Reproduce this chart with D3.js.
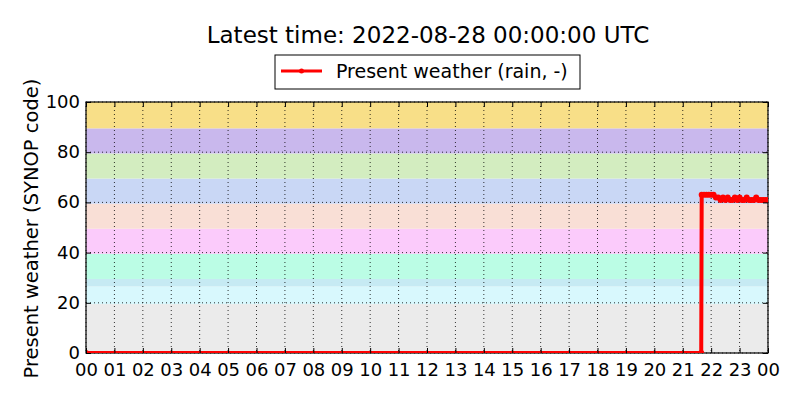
<!DOCTYPE html>
<html>
<head>
<meta charset="utf-8">
<script src="https://cdn.jsdelivr.net/npm/d3@7"></script>
<style>
  body { margin: 0; background: #fff; }
  svg { font-family: "DejaVu Sans", sans-serif; }
</style>
</head>
<body>
<svg width="800" height="400"></svg>
<script>
// weather code bands (SYNOP groups)
const BAND_EDGES = [0, 19.5, 26.5, 29.5, 39.5, 49.5, 59.5, 69.5, 79.5, 89.5, 100];
const BAND_COLORS = ['#ebebeb', '#d8f8fd', '#c6eaf3', '#bbfde5', '#fbcbfb',
                     '#f9dfd6', '#c9d7f5', '#d3edc0', '#c9b8ed', '#f8df88'];

// observation times (UTC, 2022-08-27) and present weather code
const TIMES = ['00:00', '21:39', '21:40', '21:45', '21:50', '21:55', '22:00', '22:05',
               '22:10', '22:15', '22:20', '22:25', '22:30', '22:35', '22:40', '22:45',
               '22:50', '22:55', '23:00', '23:05', '23:10', '23:15', '23:20', '23:25',
               '23:30', '23:35', '23:40', '23:45', '23:50', '23:55', '24:00'];
const VALUES = [0, 0, 63, 63, 63, 63, 63, 63,
                62, 62, 61, 62, 61, 62, 61, 61,
                62, 61, 62, 61, 61, 62, 61, 61,
                61, 62, 61, 61, 61, 61, 61];

const Y_TICKS = [0, 20, 40, 60, 80, 100];

const MARGIN = { left: 86, right: 32, top: 102, bottom: 47 };
const W = 800, H = 400;
const PW = W - MARGIN.left - MARGIN.right;
const PH = H - MARGIN.top - MARGIN.bottom;

const day0 = Date.UTC(2022, 7, 27);
const toDate = t => {
  const [h, m] = t.split(':').map(Number);
  return new Date(day0 + (h * 60 + m) * 60000);
};
const data = TIMES.map((t, i) => ({ t: toDate(t), v: VALUES[i] }));

const x = d3.scaleUtc().domain([new Date(day0), new Date(day0 + 864e5)]).range([0, PW]);
const y = d3.scaleLinear().domain([0, 100]).range([PH, 0]);

const svg = d3.select('svg');

svg.append('text')
  .attr('x', MARGIN.left + PW / 2 + 1).attr('y', 43)
  .attr('text-anchor', 'middle')
  .style('font-size', '23px')
  .text('Latest time: 2022-08-28 00:00:00 UTC');

svg.append('defs').append('clipPath').attr('id', 'clip')
  .append('rect').attr('width', PW).attr('height', PH);

const g = svg.append('g').attr('transform', `translate(${MARGIN.left},${MARGIN.top})`);

// colour bands
g.selectAll('.band')
  .data(BAND_COLORS)
  .enter()
  .append('rect')
  .classed('band', true)
  .attr('x', 0)
  .attr('width', PW)
  .attr('y', (d, i) => y(BAND_EDGES[i + 1]))
  .attr('height', (d, i) => y(BAND_EDGES[i]) - y(BAND_EDGES[i + 1]))
  .attr('fill', d => d);

// grid
const hours = x.ticks(d3.utcHour.every(1));
g.selectAll('.vgrid').data(hours).enter().append('line')
  .attr('x1', d => x(d)).attr('x2', d => x(d))
  .attr('y1', 0).attr('y2', PH)
  .attr('stroke', '#000').attr('stroke-width', 0.8).attr('stroke-dasharray', '1,3');
g.selectAll('.hgrid').data(Y_TICKS).enter().append('line')
  .attr('y1', d => y(d)).attr('y2', d => y(d))
  .attr('x1', 0).attr('x2', PW)
  .attr('stroke', '#000').attr('stroke-width', 0.8).attr('stroke-dasharray', '1,3');

// frame
g.append('rect').attr('width', PW).attr('height', PH)
  .attr('fill', 'none').attr('stroke', '#000').attr('stroke-width', 1.2);

// series
const line = d3.line().x(d => x(d.t)).y(d => y(d.v));
const plot = g.append('g').attr('clip-path', 'url(#clip)');
plot.append('path')
  .datum(data)
  .attr('d', line)
  .attr('fill', 'none')
  .attr('stroke', '#ff0000')
  .attr('stroke-width', 4)
  .attr('stroke-linejoin', 'round');
plot.selectAll('.pt').data(data).enter().append('circle')
  .attr('cx', d => x(d.t)).attr('cy', d => y(d.v)).attr('r', 3)
  .attr('fill', '#ff0000');

// axes, ticks inward on all sides
const fmt = d3.utcFormat('%H');
const xb = g.append('g').attr('transform', `translate(0,${PH})`)
  .call(d3.axisBottom(x).ticks(d3.utcHour.every(1)).tickFormat(fmt).tickSizeInner(-5).tickSizeOuter(0).tickPadding(10));
const xt = g.append('g')
  .call(d3.axisTop(x).ticks(d3.utcHour.every(1)).tickFormat('').tickSizeInner(-5).tickSizeOuter(0));
const yl = g.append('g')
  .call(d3.axisLeft(y).tickValues(Y_TICKS).tickSizeInner(-5).tickSizeOuter(0).tickPadding(6));
const yr = g.append('g').attr('transform', `translate(${PW},0)`)
  .call(d3.axisRight(y).tickValues(Y_TICKS).tickFormat('').tickSizeInner(-5).tickSizeOuter(0));
[xb, xt, yl, yr].forEach(a => {
  a.select('.domain').remove();
  a.selectAll('line').attr('stroke', '#000');
  a.selectAll('text').attr('fill', '#000').style('font-size', '18px').style('font-family', '"DejaVu Sans", sans-serif');
});
yl.selectAll('text').attr('dy', '0.3em');

svg.append('text')
  .attr('transform', `translate(38,${MARGIN.top + PH / 2 + 1}) rotate(-90)`)
  .attr('text-anchor', 'middle')
  .style('font-size', '19.5px')
  .text('Present weather (SYNOP code)');

// legend
const lg = svg.append('g').attr('transform', 'translate(275,55)');
lg.append('rect').attr('width', 305).attr('height', 34)
  .attr('fill', '#fff').attr('stroke', '#000').attr('stroke-width', 1);
lg.append('line').attr('x1', 6).attr('x2', 47).attr('y1', 16).attr('y2', 16)
  .attr('stroke', '#ff0000').attr('stroke-width', 3);
lg.append('circle').attr('cx', 26.5).attr('cy', 16).attr('r', 2.5).attr('fill', '#ff0000');
lg.append('text').attr('x', 61).attr('y', 23)
  .style('font-size', '19px')
  .text('Present weather (rain, -)');
</script>
</body>
</html>
